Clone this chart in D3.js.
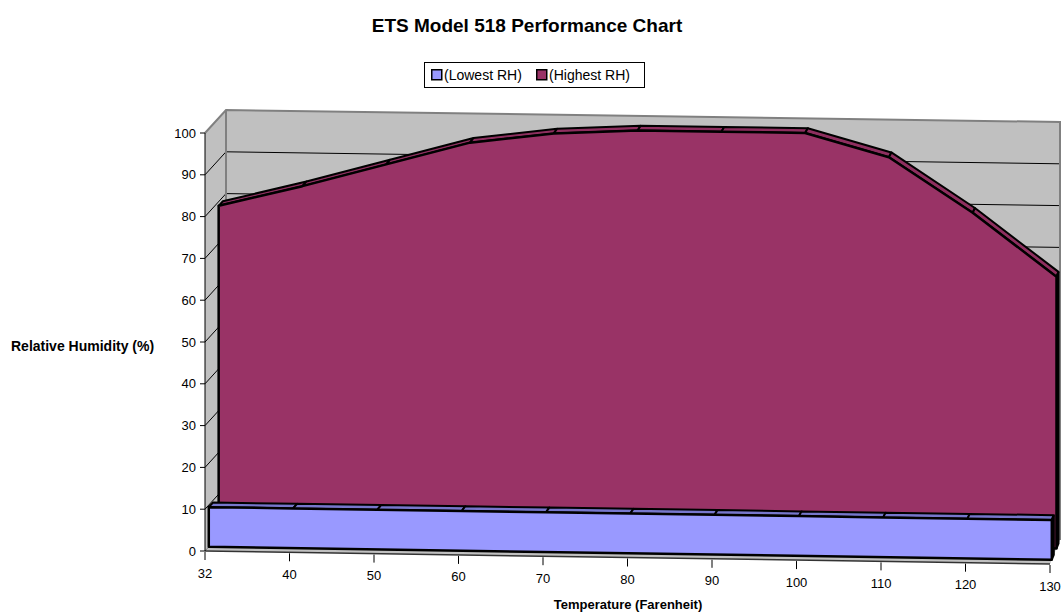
<!DOCTYPE html>
<html>
<head>
<meta charset="utf-8">
<script src="https://cdn.jsdelivr.net/npm/d3@7"></script>
<style>
  body { margin: 0; background: #fff; }
  text { font-family: "Liberation Sans", Arial, sans-serif; }
</style>
</head>
<body>
<svg id="chart" width="1064" height="615"></svg>
<script>
// chart data
const categories = ['32', '40', '50', '60', '70', '80', '90', '100', '110', '120', '130']
const lowestRH = [9.5, 9.5, 9.5, 9.5, 9.5, 9.5, 9.5, 9.5, 9.5, 9.5, 9.5]
const highestRH = [79, 84, 89.5, 95, 97.5, 98.5, 98.5, 98.5, 93, 80, 65]
const yTicks = [0, 10, 20, 30, 40, 50, 60, 70, 80, 90, 100]
const seriesNames = ['(Lowest RH)', '(Highest RH)']

const width = 1064, height = 615

// screen corners of the 3d plot box (front/back, left/right, bottom/top)
const box = {
  flb: [205, 551], frb: [1050, 564], flt: [205, 133], frt: [1050, 146],
  blb: [226, 528], brb: [1060, 540], blt: [226, 110], brt: [1060, 122]
}

const lerp = (a, b, t) => [a[0] + (b[0] - a[0]) * t, a[1] + (b[1] - a[1]) * t]

// u: along categories, v: value, w: depth (0 front, 1 back)
function project(u, v, w) {
  let fb = lerp(box.flb, box.frb, u), ft = lerp(box.flt, box.frt, u)
  let bb = lerp(box.blb, box.brb, u), bt = lerp(box.blt, box.brt, u)
  return lerp(lerp(fb, ft, v), lerp(bb, bt, v), w)
}

let xScale = d3.scalePoint().domain(categories).range([0, 1])
let yScale = d3.scaleLinear().domain([0, 100]).range([0, 1])

const svg = d3.select('#chart')
const line = d3.line()
const poly = pts => line(pts) + 'Z'

// walls and floor
const wallFill = '#c0c0c0', wallEdge = '#808080'
svg.append('path').attr('d', poly([project(0, 0, 1), project(0, 1, 1), project(1, 1, 1), project(1, 0, 1)]))
  .attr('fill', wallFill).attr('stroke', 'none')
svg.append('path').attr('d', poly([project(0, 0, 0), project(0, 1, 0), project(0, 1, 1), project(0, 0, 1)]))
  .attr('fill', wallFill).attr('stroke', 'none')
svg.append('path').attr('d', poly([project(0, 0, 0), project(1, 0, 0), project(1, 0, 1), project(0, 0, 1)]))
  .attr('fill', wallFill).attr('stroke', 'none')

// gridlines on side and back wall
svg.append('g').selectAll('path')
  .data(yTicks.slice(1, -1))
  .enter().append('path')
  .attr('d', d => line([project(0, yScale(d), 0), project(0, yScale(d), 1), project(1, yScale(d), 1)]))
  .attr('fill', 'none').attr('stroke', '#000').attr('stroke-width', 1)

// wall edges
svg.append('path')
  .attr('d', line([project(0, 1, 0), project(0, 1, 1), project(1, 1, 1), project(1, 0, 1)]))
  .attr('fill', 'none').attr('stroke', wallEdge).attr('stroke-width', 2)
svg.append('path')
  .attr('d', line([project(0, 0, 1), project(0, 1, 1)]))
  .attr('fill', 'none').attr('stroke', wallEdge).attr('stroke-width', 2)
svg.append('path')
  .attr('d', line([project(0, 0, 0), project(0, 0, 1)]))
  .attr('fill', 'none').attr('stroke', wallEdge).attr('stroke-width', 1)

// a 3d area slab for one series
function drawSlab(values, w0, w1, front, top) {
  let g = svg.append('g')
  let pts = values.map((d, i) => [xScale(categories[i]), yScale(d)])
  let n = pts.length - 1

  // top strip, one piece per segment
  g.selectAll('path.top')
    .data(d3.range(n))
    .enter().append('path')
    .attr('class', 'top')
    .attr('d', i => poly([
      project(pts[i][0], pts[i][1], w0), project(pts[i + 1][0], pts[i + 1][1], w0),
      project(pts[i + 1][0], pts[i + 1][1], w1), project(pts[i][0], pts[i][1], w1)]))
    .attr('fill', top).attr('stroke', '#000').attr('stroke-width', 2)
    .attr('stroke-linejoin', 'round')

  // right end face
  g.append('path')
    .attr('d', poly([project(1, 0, w0), project(1, pts[n][1], w0), project(1, pts[n][1], w1), project(1, 0, w1)]))
    .attr('fill', '#111').attr('stroke', '#000').attr('stroke-width', 2)

  // front face
  let facePts = pts.map(p => project(p[0], p[1], w0))
  facePts.push(project(1, 0, w0), project(0, 0, w0))
  g.append('path')
    .attr('d', poly(facePts))
    .attr('fill', front).attr('stroke', '#000').attr('stroke-width', 2.5)
    .attr('stroke-linejoin', 'round')
}

drawSlab(highestRH, 0.65, 0.85, '#993366', '#8e2f5f')
drawSlab(lowestRH, 0.18, 0.38, '#9999ff', '#7777cc')

// floor front edge
svg.append('path')
  .attr('d', line([project(0, 0, 0), project(1, 0, 0)]))
  .attr('stroke', '#333').attr('stroke-width', 1.5)

// y axis
let yAxis = svg.append('g')
yAxis.append('path')
  .attr('d', line([project(0, 0, 0), project(0, 1, 0)]))
  .attr('stroke', '#000').attr('stroke-width', 1)
let yTick = yAxis.selectAll('g.tick')
  .data(yTicks)
  .enter().append('g')
  .attr('class', 'tick')
  .attr('transform', d => { let p = project(0, yScale(d), 0); return 'translate(' + p[0] + ',' + p[1] + ')' })
yTick.append('line').attr('x1', -5).attr('x2', 0).attr('stroke', '#000')
yTick.append('text')
  .attr('x', -9).attr('dy', '0.35em')
  .attr('text-anchor', 'end')
  .attr('font-size', 13)
  .text(d => d)

// x axis
let xTick = svg.append('g').selectAll('g.tick')
  .data(categories)
  .enter().append('g')
  .attr('class', 'tick')
  .attr('transform', d => { let p = project(xScale(d), 0, 0); return 'translate(' + p[0] + ',' + p[1] + ')' })
xTick.append('line').attr('y1', 1).attr('y2', 9).attr('stroke', '#000')
xTick.append('text')
  .attr('y', 22).attr('dy', '0.35em')
  .attr('text-anchor', 'middle')
  .attr('font-size', 13)
  .text(d => d)

// titles
svg.append('text')
  .attr('x', 527).attr('y', 32)
  .attr('text-anchor', 'middle')
  .attr('font-size', 19).attr('font-weight', 'bold')
  .text('ETS Model 518 Performance Chart')

svg.append('text')
  .attr('x', 11).attr('y', 346).attr('dy', '0.35em')
  .attr('text-anchor', 'start')
  .attr('font-size', 14).attr('font-weight', 'bold')
  .text('Relative Humidity (%)')

svg.append('text')
  .attr('x', 628).attr('y', 604).attr('dy', '0.35em')
  .attr('text-anchor', 'middle')
  .attr('font-size', 13).attr('font-weight', 'bold')
  .text('Temperature (Farenheit)')

// legend
let legend = svg.append('g')
legend.append('rect')
  .attr('x', 424.5).attr('y', 62.5).attr('width', 220).attr('height', 25)
  .attr('fill', '#fff').attr('stroke', '#000')
const legendColors = ['#9999ff', '#993366']
const legendX = [431, 536]
let item = legend.selectAll('g.item')
  .data(seriesNames)
  .enter().append('g')
  .attr('class', 'item')
  .attr('transform', (d, i) => 'translate(' + legendX[i] + ',75)')
item.append('rect')
  .attr('x', 0.75).attr('y', -5.25).attr('width', 10).attr('height', 10)
  .attr('fill', (d, i) => legendColors[i]).attr('stroke', '#000').attr('stroke-width', 1.5)
item.append('text')
  .attr('x', 13).attr('dy', '0.35em')
  .attr('font-size', 14)
  .text(d => d)
</script>
</body>
</html>
